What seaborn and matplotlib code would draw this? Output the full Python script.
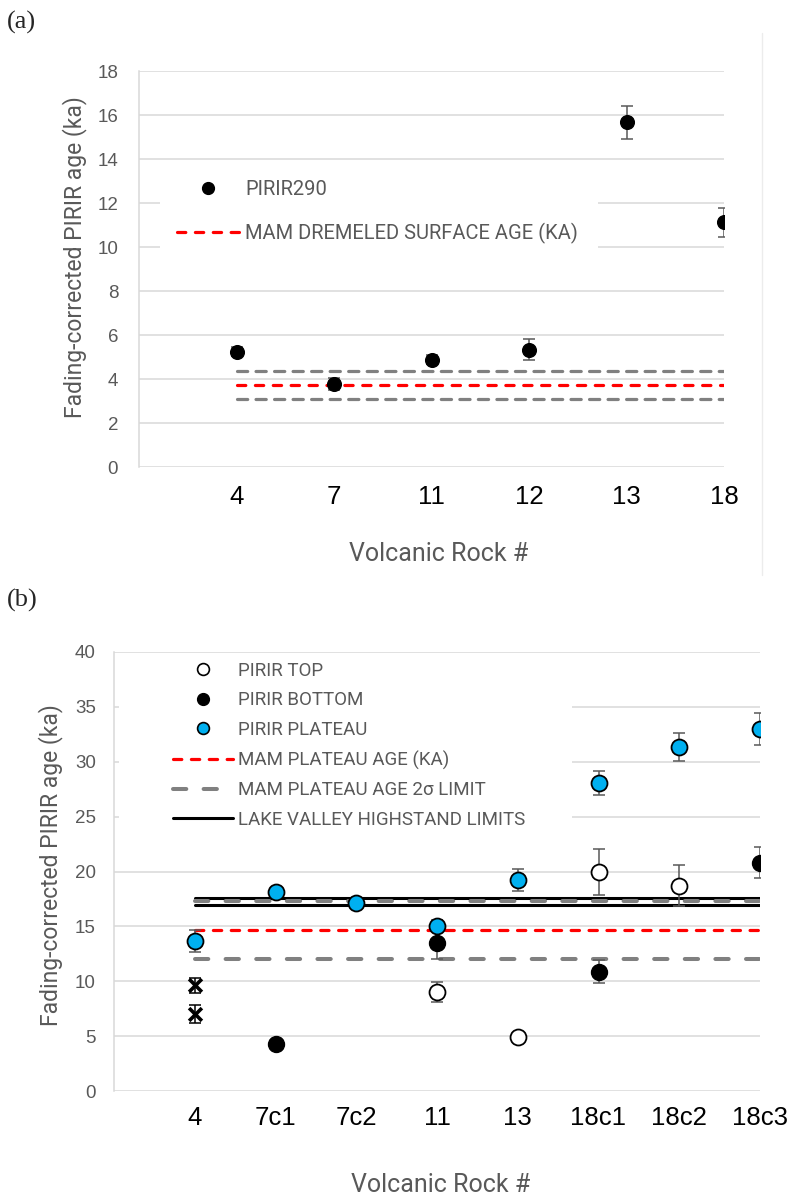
import numpy as np
import pandas as pd
import matplotlib.pyplot as plt
import seaborn as sns
from matplotlib.lines import Line2D
from matplotlib.patches import Rectangle

# ---- panel (a) data
rocks_a = ['4', '7', '11', '12', '13', '18']
pirir290 = [5.25, 3.76, 4.88, 5.34, 15.67, 11.12]
pirir290_err = [0.2, 0.28, 0.2, 0.48, 0.76, 0.66]
mam_surface = 3.75
mam_surface_lims = [3.11, 4.37]

# ---- panel (b) data
rocks_b = ['4', '7c1', '7c2', '11', '13', '18c1', '18c2', '18c3']
top_rocks = ['11', '13', '18c1', '18c2']
top_age = [9.02, 4.94, 19.95, 18.72]
top_err = [0.93, 0.15, 2.1, 1.85]
bottom_rocks = ['7c1', '11', '18c1', '18c3']
bottom_age = [4.27, 13.51, 10.87, 20.82]
bottom_err = [0.2, 1.45, 1.05, 1.45]
plateau_rocks = ['4', '7c1', '7c2', '11', '13', '18c1', '18c2', '18c3']
plateau_age = [13.69, 18.13, 17.13, 15.05, 19.24, 28.07, 31.34, 33.0]
plateau_err = [1.0, 0.4, 0.5, 0.5, 1.0, 1.06, 1.25, 1.45]
extra_rocks = ['4', '4']
extra_age = [9.64, 7.0]
extra_err = [0.7, 0.8]
mam_plateau = 14.7
mam_plateau_2sig = [12.05, 17.31]
lake_highstand = [16.98, 17.62]

sns.set_theme(style='white')
plt.rcParams['font.family'] = ['Roboto', 'DejaVu Sans']

GREY_TXT = '#595959'
GRID = '#d9d9d9'
ERR = '#595959'
BLUE = '#00b0f0'


def frame(rocks, ages, errs, order):
    df = pd.DataFrame({'rock': rocks, 'age': ages, 'err': errs})
    df['pos'] = df['rock'].map({r: i for i, r in enumerate(order)})
    return df


def points(ax, df, face, edge, size, marker='o', lw=1.0, ecolor=ERR):
    ax.errorbar(df['pos'], df['age'], yerr=df['err'], fmt='none', ecolor=ecolor,
                elinewidth=1.1, capsize=4, capthick=1.1, zorder=3)
    sns.scatterplot(data=df, x='pos', y='age', ax=ax, color=face, edgecolor=edge,
                    s=size, marker=marker, linewidth=lw, zorder=4, legend=False)


def style_axes(ax, order, ymax, ystep, xpad, ypad):
    ax.set_xlim(-1, len(order) - 1)
    ax.set_ylim(0, ymax)
    ax.set_yticks(np.arange(0, ymax + 1, ystep))
    ax.set_xticks(range(len(order)))
    ax.set_xticklabels(order, family='Liberation Sans', fontsize=18.5, color='black')
    ax.tick_params(axis='x', length=0, pad=xpad)
    ax.tick_params(axis='y', length=0, pad=ypad, labelsize=13.5, labelcolor=GREY_TXT)
    for t in ax.get_yticklabels():
        t.set_family('Liberation Sans')
    ax.grid(axis='y', color=GRID, linewidth=1.1)
    ax.set_axisbelow(True)
    for s in ['top', 'right', 'bottom']:
        ax.spines[s].set_visible(False)
    ax.spines['left'].set_color(GRID)
    ax.spines['left'].set_linewidth(1.1)
    ax.set_ylabel('Fading-corrected PIRIR age (ka)', fontsize=16.5, color=GREY_TXT)
    ax.set_xlabel('Volcanic Rock #', fontsize=18, color=GREY_TXT)


fig = plt.figure(figsize=(7.98, 11.99), dpi=100)
ax1 = fig.add_axes([139 / 798, 1 - 467 / 1199, 585 / 798, 396 / 1199])
ax2 = fig.add_axes([114 / 798, 1 - 1091 / 1199, 646 / 798, 439 / 1199])

# ================= (a)
style_axes(ax1, rocks_a, 18, 2, 13, 15)
x_end = len(rocks_a) - 1
ax1.hlines(mam_surface_lims, 0, x_end, colors='#808080', linewidth=2.3,
           linestyles=(0, (3.2, 2.6)), zorder=2)
ax1.hlines(mam_surface, 0, x_end, colors='#ff0000', linewidth=2.3,
           linestyles=(0, (2.6, 3.0)), zorder=2)
for c in ax1.collections:
    c.set_capstyle('round')
points(ax1, frame(rocks_a, pirir290, pirir290_err, rocks_a), 'black', 'black', 97)

ax1.add_patch(Rectangle((0.036, 0.46), 0.749, 0.303, transform=ax1.transAxes,
                        facecolor='white', edgecolor='none', zorder=1))
h1 = [Line2D([], [], marker='o', ls='none', color='black', markersize=8.5),
      Line2D([], [], color='#ff0000', lw=2.3, ls=(0, (2.6, 3.0)),
             dash_capstyle='round')]
ax1.legend(h1, ['PIRIR290', 'MAM DREMELED SURFACE AGE (KA)'],
           loc='upper left', bbox_to_anchor=(0.065, 0.724), frameon=False,
           borderpad=0, borderaxespad=0, handlelength=3.1, handletextpad=0.3,
           labelspacing=1.15, fontsize=14.5, labelcolor=GREY_TXT)
ax1.yaxis.set_label_coords(-0.089, 0.53)
ax1.xaxis.set_label_coords(0.513, -0.19)

# ================= (b)
style_axes(ax2, rocks_b, 40, 5, 11, 13)
x_end = len(rocks_b) - 1
ax2.hlines(lake_highstand, 0, x_end, colors='black', linewidth=2.2, zorder=2)
ax2.hlines(mam_plateau_2sig, 0, x_end, colors='#808080', linewidth=2.9,
           linestyles=(0, (3.3, 4.3)), zorder=2.1)
ax2.hlines(mam_plateau, 0, x_end, colors='#ff0000', linewidth=2.3,
           linestyles=(0, (2.6, 3.0)), zorder=2)
for c in ax2.collections:
    c.set_capstyle('round')

points(ax2, frame(extra_rocks, extra_age, extra_err, rocks_b), 'black', 'black', 85,
       marker='x', lw=2.6, ecolor='black')
points(ax2, frame(top_rocks, top_age, top_err, rocks_b), 'white', 'black', 132, lw=1.3)
points(ax2, frame(bottom_rocks, bottom_age, bottom_err, rocks_b), 'black', 'black', 132)
points(ax2, frame(plateau_rocks, plateau_age, plateau_err, rocks_b), BLUE, 'black', 132, lw=1.3)

ax2.add_patch(Rectangle((0.008, 0.526), 0.701, 0.467, transform=ax2.transAxes,
                        facecolor='white', edgecolor='none', zorder=1))
h2 = [Line2D([], [], marker='o', ls='none', mfc='white', mec='black', mew=1.2, markersize=8.5),
      Line2D([], [], marker='o', ls='none', mfc='black', mec='black', markersize=8.5),
      Line2D([], [], marker='o', ls='none', mfc=BLUE, mec='black', mew=1.2, markersize=8.5),
      Line2D([], [], color='#ff0000', lw=2.3, ls=(0, (2.6, 3.0)), dash_capstyle='round'),
      Line2D([], [], color='#808080', lw=2.9, ls=(0, (3.3, 4.3)), dash_capstyle='round'),
      Line2D([], [], color='black', lw=2.2)]
labels2 = ['PIRIR TOP', 'PIRIR BOTTOM', 'PIRIR PLATEAU', 'MAM PLATEAU AGE (KA)',
           'MAM PLATEAU AGE 2\u03c3 LIMIT', 'LAKE VALLEY HIGHSTAND LIMITS']
ax2.legend(h2, labels2, loc='upper left', bbox_to_anchor=(0.091, 0.978), frameon=False,
           borderpad=0, borderaxespad=0, handlelength=3.2, handletextpad=0.3,
           labelspacing=0.62, fontsize=13.5, labelcolor=GREY_TXT)
ax2.yaxis.set_label_coords(-0.079, 0.515)
ax2.xaxis.set_label_coords(0.505, -0.187)

# panel letters and faint chart border
fig.text(7 / 798, 1 - 22 / 1199, '(a)', family='Liberation Serif', fontsize=19, va='center')
fig.text(7 / 798, 1 - 600 / 1199, '(b)', family='Liberation Serif', fontsize=19, va='center')
fig.add_artist(Line2D([762 / 798, 762 / 798], [1 - 33 / 1199, 1 - 575 / 1199],
                      color='#ececec', lw=1.0))

fig.savefig('out.png', dpi=100)
